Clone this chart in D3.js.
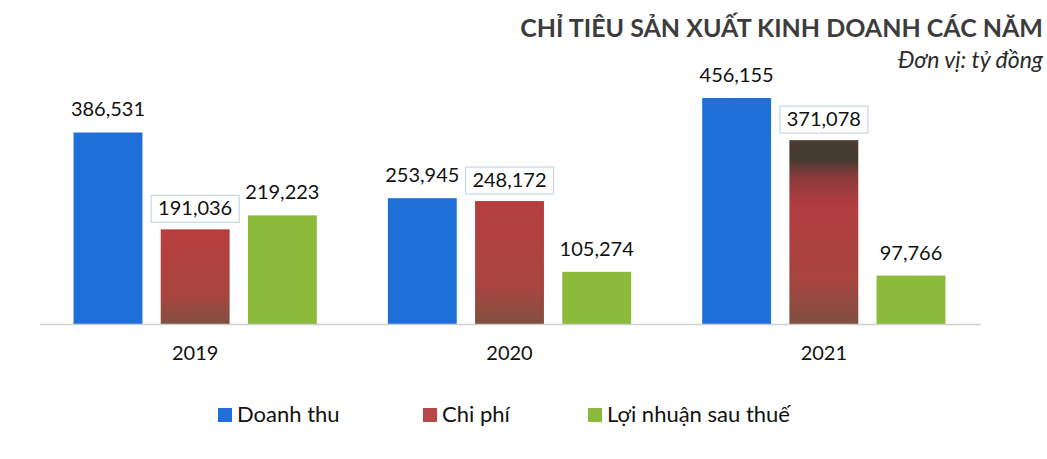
<!DOCTYPE html>
<html>
<head>
<meta charset="utf-8">
<script src="https://cdn.jsdelivr.net/npm/d3@7"></script>
<style>
  body { margin: 0; background: #fff; }
  svg { font-family: Lato, "Open Sans", sans-serif; }
</style>
</head>
<body>
<svg id="chart" width="1047" height="459"></svg>
<script>
const years = ["2019", "2020", "2021"];
const seriesNames = ["Doanh thu", "Chi phí", "Lợi nhuận sau thuế"];
const doanhThu = [386531, 253945, 456155];
const chiPhi = [191036, 248172, 371078];
const loiNhuan = [219223, 105274, 97766];
const valueLabels = [
  ["386,531", "191,036", "219,223"],
  ["253,945", "248,172", "105,274"],
  ["456,155", "371,078", "97,766"]
];

const swatch = ["#1f6fd8", "#b8474a", "#8cba3a"];

const svg = d3.select("#chart");
const baseY = 324;

// red bars look darker at the bottom in the scan; the 2021 one has a dark top band too
const defs = svg.append("defs");
const redStops = [
  [["0%", "#b83e3e"], ["70%", "#a8443e"], ["100%", "#80503f"]],
  [["0%", "#b53f3f"], ["70%", "#a8443e"], ["100%", "#80503f"]],
  [["0%", "#4a3d33"], ["10%", "#433a30"], ["20%", "#8a3a3c"], ["35%", "#b23d40"], ["75%", "#a8443e"], ["100%", "#7f4f3f"]]
];
redStops.forEach((stops, i) => {
  const gr = defs.append("linearGradient").attr("id", "redGrad" + i)
    .attr("x1", 0).attr("y1", 0).attr("x2", 0).attr("y2", 1);
  stops.forEach(s => gr.append("stop").attr("offset", s[0]).attr("stop-color", s[1]));
});

const x0 = d3.scaleBand().domain(years).range([38, 981]).paddingInner(0.226).paddingOuter(0.113);
const x1 = d3.scaleBand().domain(d3.range(3)).range([0, x0.bandwidth()]).paddingInner(0.21);
const y = d3.scaleLinear().domain([0, 456155]).range([baseY, 98]);

// title
svg.append("text")
  .attr("x", 1043).attr("y", 37)
  .attr("text-anchor", "end")
  .attr("font-size", 25).attr("font-weight", "bold")
  .attr("fill", "#3d3d3d")
  .text("CHỈ TIÊU SẢN XUẤT KINH DOANH CÁC NĂM");

svg.append("text")
  .attr("x", 1043).attr("y", 68)
  .attr("text-anchor", "end")
  .attr("font-size", 23).attr("font-style", "italic")
  .attr("fill", "#2a2a2a")
  .text("Đơn vị: tỷ đồng");

const rows = years.map((yr, i) => ({
  year: yr,
  idx: i,
  vals: [doanhThu[i], chiPhi[i], loiNhuan[i]],
  labels: valueLabels[i]
}));

const groups = svg.selectAll("g.year")
  .data(rows).enter().append("g")
  .attr("class", "year")
  .attr("transform", d => `translate(${x0(d.year)},0)`);

groups.selectAll("rect.bar")
  .data(d => d.vals.map((v, k) => ({ v, k, i: d.idx })))
  .enter().append("rect")
  .attr("class", "bar")
  .attr("x", d => x1(d.k))
  .attr("y", d => y(d.v))
  .attr("width", x1.bandwidth())
  .attr("height", d => baseY - y(d.v))
  .attr("fill", d => d.k == 1 ? `url(#redGrad${d.i})` : swatch[d.k]);

// boxes behind Chi phí labels
groups.selectAll("rect.box")
  .data(d => [{ v: d.vals[1] }])
  .enter().append("rect")
  .attr("class", "box")
  .attr("x", x1(1) + x1.bandwidth() / 2 - 44)
  .attr("y", d => y(d.v) - 34)
  .attr("width", 88).attr("height", 27)
  .attr("fill", "#fff")
  .attr("stroke", "#c9d6e6").attr("stroke-width", 1.2);

groups.selectAll("text.val")
  .data(d => d.vals.map((v, k) => ({ v, k, label: d.labels[k] })))
  .enter().append("text")
  .attr("class", "val")
  .attr("x", d => x1(d.k) + x1.bandwidth() / 2)
  .attr("y", d => y(d.v) - (d.k == 1 ? 14 : 16))
  .attr("text-anchor", "middle")
  .attr("font-size", 20)
  .attr("fill", "#111")
  .text(d => d.label);

// baseline
svg.append("line")
  .attr("x1", 40).attr("x2", 981)
  .attr("y1", baseY + 0.5).attr("y2", baseY + 0.5)
  .attr("stroke", "#cfcfcf").attr("stroke-width", 1.5);

// year labels
svg.selectAll("text.yr")
  .data(years).enter().append("text")
  .attr("class", "yr")
  .attr("x", d => x0(d) + x0.bandwidth() / 2)
  .attr("y", 360)
  .attr("text-anchor", "middle")
  .attr("font-size", 20)
  .attr("fill", "#111")
  .text(d => d);

// legend
const legendX = [218, 423, 588];
const lg = svg.selectAll("g.lg")
  .data(seriesNames).enter().append("g")
  .attr("class", "lg")
  .attr("transform", (d, i) => `translate(${legendX[i]},415)`);
lg.append("rect").attr("x", 0).attr("y", -7).attr("width", 14).attr("height", 14)
  .attr("fill", (d, i) => swatch[i]);
lg.append("text").attr("x", 19).attr("y", 7)
  .attr("font-size", 22).attr("fill", "#111")
  .text(d => d);
</script>
</body>
</html>
